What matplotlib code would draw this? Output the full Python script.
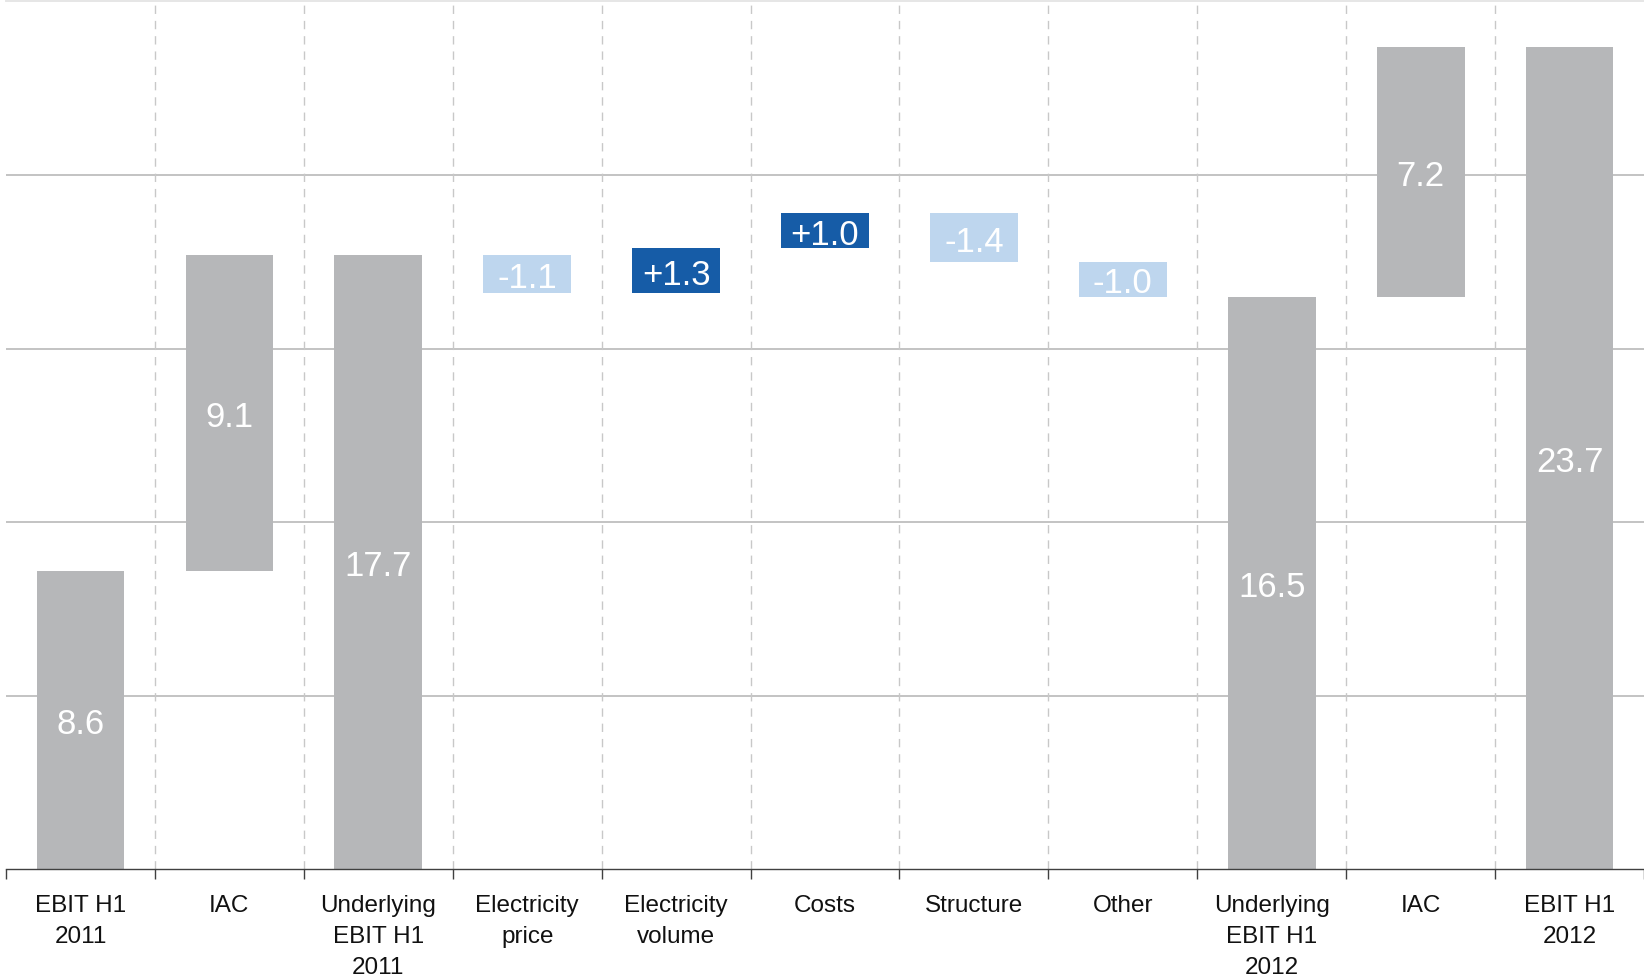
import matplotlib
matplotlib.use("Agg")
import matplotlib.pyplot as plt

plt.rcParams['font.family'] = ['Liberation Sans', 'DejaVu Sans']

# EBIT bridge H1 2011 -> H1 2012
categories = ["EBIT H1\n2011", "IAC", "Underlying\nEBIT H1\n2011", "Electricity\nprice",
              "Electricity\nvolume", "Costs", "Structure", "Other",
              "Underlying\nEBIT H1\n2012", "IAC", "EBIT H1\n2012"]
values = [8.6, 9.1, 17.7, -1.1, 1.3, 1.0, -1.4, -1.0, 16.5, 7.2, 23.7]
kinds = ["total", "step", "total", "delta", "delta", "delta", "delta", "delta",
         "total", "step", "total"]

GRAY = "#b6b7b9"
POS = "#165ca7"
NEG = "#bed6ee"

fig = plt.figure(figsize=(16.44, 9.78), dpi=100)
ax = fig.add_axes([0.0037, 0.1100, 0.9963, 0.8875])

bottoms, heights, colors, labels = [], [], [], []
level = 0.0
for v, k in zip(values, kinds):
    if k == "total":
        bottoms.append(0.0)
        heights.append(v)
        level = v
        colors.append(GRAY)
        labels.append(f"{v:.1f}")
    elif k == "step":
        bottoms.append(level)
        heights.append(v)
        level += v
        colors.append(GRAY)
        labels.append(f"{v:.1f}")
    else:
        bottoms.append(level if v >= 0 else level + v)
        heights.append(abs(v))
        level += v
        colors.append(POS if v >= 0 else NEG)
        labels.append(f"+{v:.1f}" if v >= 0 else f"-{abs(v):.1f}")

x = list(range(len(categories)))
ax.bar(x, heights, bottom=bottoms, width=0.59, color=colors, zorder=3)

for xi, b, h, lab in zip(x, bottoms, heights, labels):
    ax.text(xi, b + h / 2, lab, ha="center", va="center_baseline", color="white",
            fontsize=25, zorder=4)

ax.set_xlim(-0.5, len(categories) - 0.5)
ax.set_ylim(0, 25)

# horizontal gridlines
for gy in [5, 10, 15, 20]:
    ax.axhline(gy, color="#c3c3c3", lw=1.4, zorder=1)
ax.axhline(25, color="#e6e6e6", lw=1.4, zorder=1, clip_on=False)

# dashed separators between categories
for bx in range(len(categories) - 1):
    ax.axvline(bx + 0.5, color="#c8c8c8", lw=1.0, ls=(0, (6, 5)), zorder=1)

for s in ["top", "right", "left"]:
    ax.spines[s].set_visible(False)
ax.spines["bottom"].set_color("#404040")
ax.spines["bottom"].set_linewidth(1.0)
ax.spines["bottom"].set_zorder(5)

ax.set_yticks([])
ax.set_xticks([i - 0.5 for i in range(len(categories) + 1)])
ax.set_xticklabels([])
ax.tick_params(axis="x", which="major", length=7, width=1.0, color="#404040")
ax.set_xticks(x, minor=True)
ax.set_xticklabels(categories, minor=True, fontsize=17.5, color="#111111",
                   linespacing=1.52, va="top")
ax.tick_params(axis="x", which="minor", length=0, pad=18)

fig.savefig("out.png", dpi=100)
